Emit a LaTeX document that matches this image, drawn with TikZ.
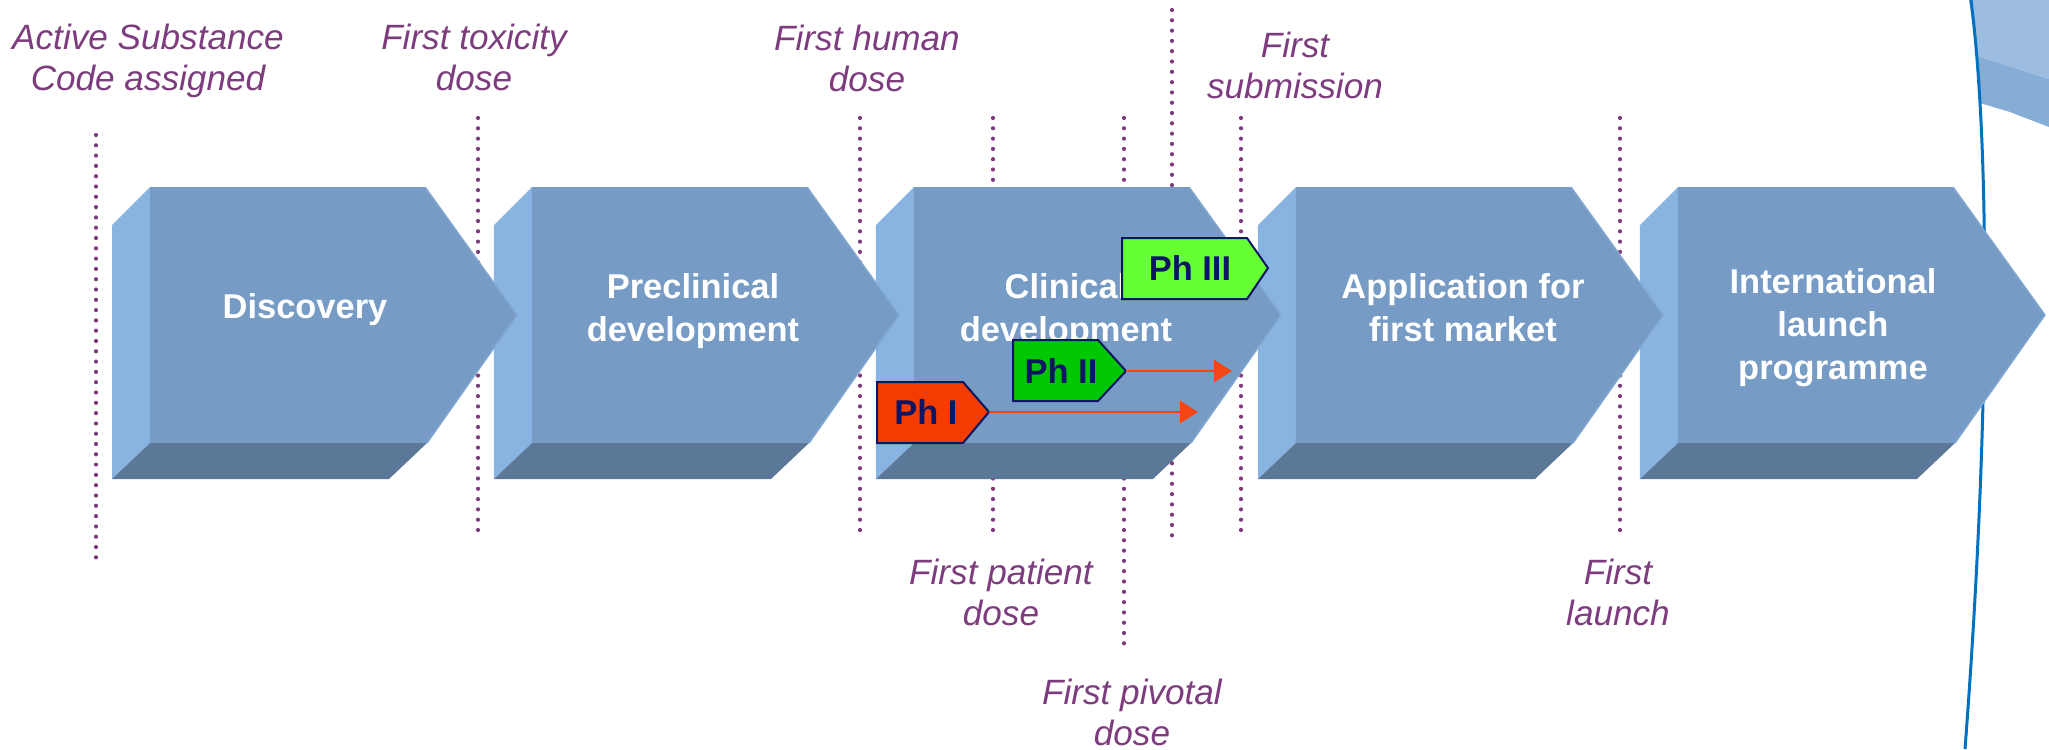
\documentclass[tikz,border=0pt]{standalone}
\usepackage{fontspec}
\setmainfont{Liberation Sans}
\usetikzlibrary{arrows.meta}
\definecolor{frontblue}{RGB}{118,155,196}
\definecolor{sideblue}{RGB}{137,179,224}
\definecolor{baseblue}{RGB}{91,120,152}
\definecolor{edgeblue}{RGB}{130,168,210}
\definecolor{bandlight}{RGB}{157,189,224}
\definecolor{banddark}{RGB}{134,173,214}
\definecolor{arcblue}{RGB}{0,112,192}
\definecolor{plum}{RGB}{125,60,125}
\definecolor{navy}{RGB}{12,22,100}
\definecolor{runred}{RGB}{245,70,20}
\definecolor{phred}{RGB}{245,60,0}
\definecolor{phgreen}{RGB}{0,200,0}
\definecolor{phlime}{RGB}{102,255,51}

\begin{document}
\begin{tikzpicture}[x=0.1mm,y=-0.1mm,
  milestone/.style={draw=plum,line width=0.42mm,dash pattern=on 0pt off 1.03mm,line cap=round},
  stage/.style={text=white,font=\bfseries\fontsize{9.8}{12.2}\selectfont,align=center,anchor=north,inner sep=0pt},
  event/.style={text=plum,font=\itshape\fontsize{10}{11.8}\selectfont,align=center,anchor=north,inner sep=0pt},
  phase/.style={draw=navy,line width=0.2mm},
  phtext/.style={text=navy,font=\bfseries\fontsize{9.8}{12}\selectfont,inner sep=0pt},
  run/.style={draw=runred,line width=0.25mm,-{Triangle[length=1.8mm,width=2.2mm]}}]
\useasboundingbox (0,0) rectangle (2049,749);

\fill[bandlight] (1969,0) -- (2049,0) -- (2049,79) -- (1977,56) -- cycle;
\fill[banddark] (1977,56) -- (2049,79) -- (2049,127) -- (2010,112) -- (1980,103) -- cycle;
\draw[arcblue,line width=0.3mm] (1971,0) .. controls (1990,150) and (1990,420) .. (1965,749);

\foreach \x/\a/\b [count=\i] in {96/135/558,478/118/540,860/118/540,993/118/540,1124/118/644,1172/10/536,1241/118/540,1620/118/540} {
  \coordinate (m\i top) at (\x,\a);
  \coordinate (m\i bot) at (\x,\b);
  \draw[milestone] (m\i top) -- (m\i bot);
}

\node[event] (asc) at (148,23) {Active Substance\\Code assigned};
\node[event] (tox) at (474,23) {First toxicity\\dose};
\node[event] (human) at (867,24) {First human\\dose};
\node[event] (subm) at (1295,31) {First\\submission};
\node[event] (patient) at (1001,558) {First patient\\dose};
\node[event] (launch) at (1618,558) {First\\launch};
\node[event] (pivotal) at (1132,678) {First pivotal\\dose};

\foreach \k/\tx/\ty/\txt in {4/305/268/{International\\launch\\programme},3/317/273/{Application for\\first market},2/302/273/{Clinical\\development},1/311/273/{Preclinical\\development},0/305/293/Discovery} {
  \begin{scope}[xshift={\k*38.2mm}]
    \fill[sideblue] (112,225) -- (150,187) -- (150,443) -- (112,479) -- cycle;
    \fill[baseblue] (112,479) -- (150,443) -- (427,443) -- (389,479) -- cycle;
    \fill[frontblue] (150,187) -- (425,187) -- (517,315) -- (427,443) -- (150,443) -- cycle;
    \draw[edgeblue,line width=0.15mm] (425,187) -- (517,315) -- (427,443);
    \node[stage] (stage\k) at (\tx,\ty) {\txt};
  \end{scope}
}

\draw[phase,fill=phred] (877,382) -- (963,382) -- (989,412) -- (963,443) -- (877,443) -- cycle;
\node[phtext] (phI) at (926,412) {Ph I};
\draw[phase,fill=phgreen] (1013,340) -- (1098,340) -- (1126,371) -- (1098,401) -- (1013,401) -- cycle;
\node[phtext] (phII) at (1061,371) {Ph II};
\draw[phase,fill=phlime] (1122,238) -- (1247,238) -- (1268,268) -- (1247,299) -- (1122,299) -- cycle;
\node[phtext] (phIII) at (1190,268) {Ph III};

\coordinate (phI tip) at (989,412);
\coordinate (phI end) at (1198,412);
\coordinate (phII tip) at (1126,371);
\coordinate (phII end) at (1232,371);
\draw[run] (phI tip) -- (phI end);
\draw[run] (phII tip) -- (phII end);
\end{tikzpicture}
\end{document}
